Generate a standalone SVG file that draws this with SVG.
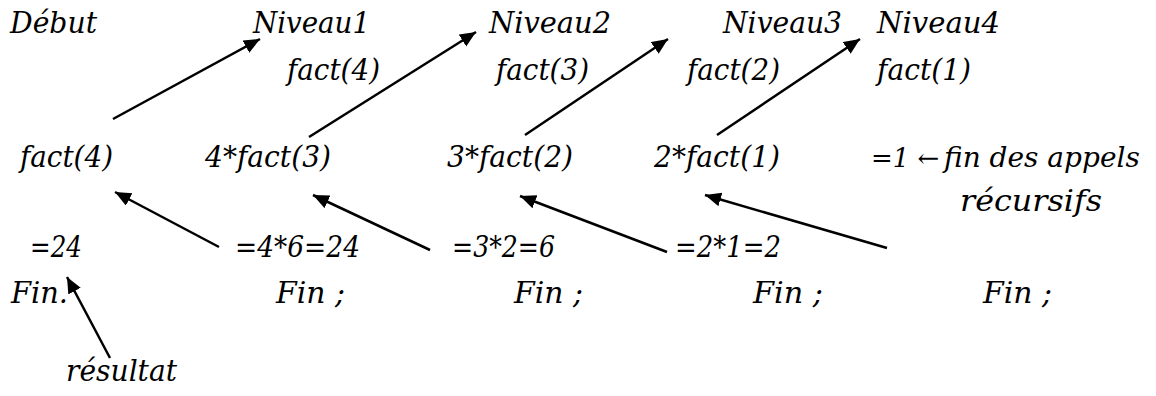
<svg xmlns="http://www.w3.org/2000/svg" width="1156" height="396" viewBox="0 0 1156 396">
<style>
text{font-family:"DejaVu Serif","Liberation Serif",serif;font-style:italic;font-size:29px;fill:#000}
.c line{stroke:#000;stroke-width:2.5;fill:none}
</style>
<defs>
<marker id="ah" markerUnits="userSpaceOnUse" markerWidth="20" markerHeight="16" refX="16" refY="7" orient="auto">
<path d="M0,0 L16,7 L0,14 Z" fill="#000"/>
</marker>
</defs>
<rect width="1156" height="396" fill="#fff"/>
<g id="debut"><text x="10" y="33" textLength="87" lengthAdjust="spacingAndGlyphs">Début</text></g>
<g id="niveau1"><text x="253" y="33" textLength="117" lengthAdjust="spacingAndGlyphs">Niveau1</text><text x="287" y="80" textLength="93" lengthAdjust="spacingAndGlyphs">fact(4)</text></g>
<g id="niveau2"><text x="489" y="33" textLength="122" lengthAdjust="spacingAndGlyphs">Niveau2</text><text x="496" y="80" textLength="93" lengthAdjust="spacingAndGlyphs">fact(3)</text></g>
<g id="niveau3"><text x="723" y="33" textLength="119" lengthAdjust="spacingAndGlyphs">Niveau3</text><text x="687" y="80" textLength="93" lengthAdjust="spacingAndGlyphs">fact(2)</text></g>
<g id="niveau4"><text x="877" y="33" textLength="123" lengthAdjust="spacingAndGlyphs">Niveau4</text><text x="877" y="80" textLength="94" lengthAdjust="spacingAndGlyphs">fact(1)</text></g>
<g id="call0"><text x="20" y="167" textLength="93" lengthAdjust="spacingAndGlyphs">fact(4)</text></g>
<g id="call1"><text x="205" y="167" textLength="126" lengthAdjust="spacingAndGlyphs">4*fact(3)</text></g>
<g id="call2"><text x="447" y="167" textLength="126" lengthAdjust="spacingAndGlyphs">3*fact(2)</text></g>
<g id="call3"><text x="654" y="167" textLength="126" lengthAdjust="spacingAndGlyphs">2*fact(1)</text></g>
<g id="call4"><text x="871" y="167" style="font-size:26px">=1 ←</text><text x="944" y="167" style="font-size:28px">fin des appels</text><text x="960" y="211" textLength="142" lengthAdjust="spacingAndGlyphs">récursifs</text></g>
<g id="ret0"><text x="30" y="257" textLength="52" lengthAdjust="spacingAndGlyphs">=24</text><text x="11" y="303" textLength="57" lengthAdjust="spacingAndGlyphs">Fin.</text></g>
<g id="ret1"><text x="235" y="257" textLength="125" lengthAdjust="spacingAndGlyphs">=4*6=24</text><text x="276" y="303" textLength="69" lengthAdjust="spacingAndGlyphs">Fin ;</text></g>
<g id="ret2"><text x="452" y="257" textLength="103" lengthAdjust="spacingAndGlyphs">=3*2=6</text><text x="514" y="303" textLength="69" lengthAdjust="spacingAndGlyphs">Fin ;</text></g>
<g id="ret3"><text x="675" y="257" textLength="106" lengthAdjust="spacingAndGlyphs">=2*1=2</text><text x="753" y="303" textLength="70" lengthAdjust="spacingAndGlyphs">Fin ;</text></g>
<g id="ret4"><text x="983" y="303" textLength="69" lengthAdjust="spacingAndGlyphs">Fin ;</text></g>
<g id="resultat"><text x="66" y="381" textLength="111" lengthAdjust="spacingAndGlyphs">résultat</text></g>
<g class="c" id="connectors">
<line x1="113" y1="119" x2="260" y2="39" marker-end="url(#ah)"/>
<line x1="309" y1="137" x2="476" y2="32" marker-end="url(#ah)"/>
<line x1="525" y1="135" x2="668" y2="39" marker-end="url(#ah)"/>
<line x1="717" y1="135" x2="860" y2="39" marker-end="url(#ah)"/>
<line x1="219" y1="247" x2="115" y2="192" marker-end="url(#ah)"/>
<line x1="430" y1="250" x2="313" y2="195" marker-end="url(#ah)"/>
<line x1="667" y1="252" x2="520" y2="196" marker-end="url(#ah)"/>
<line x1="887" y1="248" x2="705" y2="195" marker-end="url(#ah)"/>
<line x1="110" y1="358" x2="67" y2="277" marker-end="url(#ah)"/>
</g>
</svg>
